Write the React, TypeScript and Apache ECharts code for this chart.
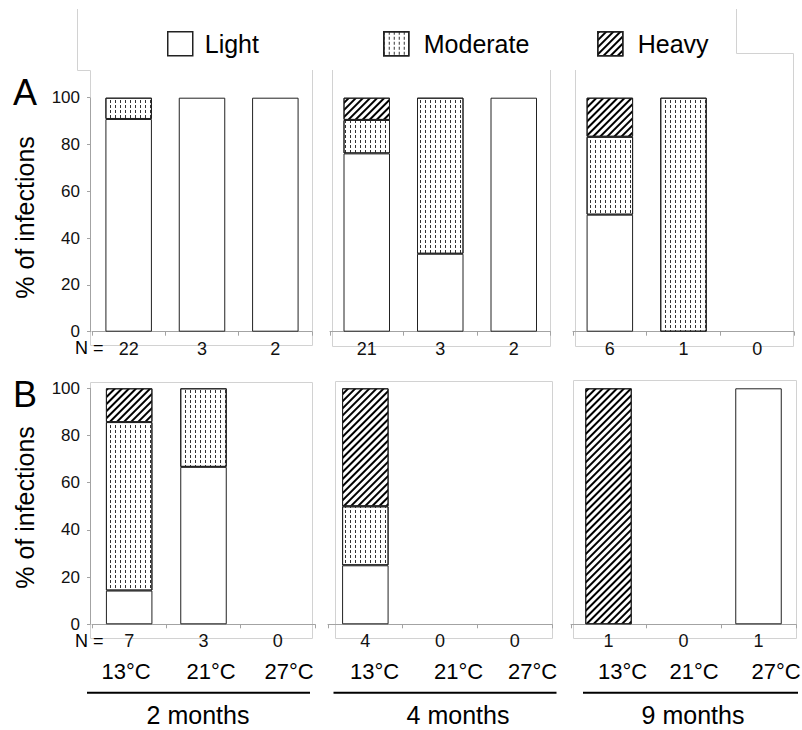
import { useEffect, useRef } from "react";
import * as echarts from "echarts";

const temperatures = ["13°C", "21°C", "27°C"];
const durations = ["2 months", "4 months", "9 months"];
const levels = ["Light", "Moderate", "Heavy"];
const rowLetters = ["A", "B"];
const yTitle = "% of infections";

// Infected fish counted at each temperature, one inner list per duration
const countsA = [[22, 3, 2], [21, 3, 2], [6, 1, 0]];
const countsB = [[7, 3, 0], [4, 0, 0], [1, 0, 1]];

// Share of infections (%) by intensity; null where no fish were infected
const lightA = [[90.9, 100, 100], [76.2, 33.3, 100], [50, 0, null]];
const moderateA = [[9.1, 0, 0], [14.3, 66.7, 0], [33.3, 100, null]];
const heavyA = [[0, 0, 0], [9.5, 0, 0], [16.7, 0, null]];
const lightB = [[14.3, 66.7, null], [25, null, null], [0, null, 100]];
const moderateB = [[71.4, 33.3, null], [25, null, null], [0, null, 0]];
const heavyB = [[14.3, 0, null], [50, null, null], [100, null, 0]];

const FONT = "'Liberation Sans', Arial, Helvetica, sans-serif";
const AXIS = "#a3a3a3";
const FRAME = "#d2d2d2";
const EDGE = "#222";

const rowsData = [
  { counts: countsA, values: [lightA, moderateA, heavyA] },
  { counts: countsB, values: [lightB, moderateB, heavyB] },
];

const rowLayout = [
  { top: 97.7, height: 234, lefts: [92, 330, 573], widths: [220, 220.5, 221], letterY: 92, titleY: 217.5, nY: 348.3 },
  { top: 388.3, height: 236, lefts: [92, 328, 571], widths: [223, 224, 225], letterY: 394.7, titleY: 507.5, nY: 641 },
];

const tempLabelX = [[126, 211, 289], [374.5, 458.5, 532.5], [622.5, 694, 776]];
const durationX = [198, 458, 693];
const underline = [[87, 310], [333.5, 556.5], [583, 798]];

const levelStyles = [
  { color: "#fff", borderColor: EDGE, borderWidth: 1 },
  {
    color: "#fff",
    borderColor: EDGE,
    borderWidth: 1,
    decal: {
      symbol: "rect",
      symbolSize: 1,
      dashArrayX: [1, 4],
      dashArrayY: [3, 2],
      color: "#333",
      backgroundColor: "#fff",
    },
  },
  {
    color: "#fff",
    borderColor: EDGE,
    borderWidth: 1,
    decal: {
      symbol: "rect",
      symbolSize: 1,
      dashArrayX: [1, 0],
      dashArrayY: [2, 3],
      rotation: -Math.PI / 4,
      color: "#000",
      backgroundColor: "#fff",
    },
  },
];

function line(points: number[][], stroke = FRAME, lineWidth = 1) {
  return { type: "polyline", silent: true, shape: { points }, style: { stroke, lineWidth, fill: "none" } };
}

function text(x: number, y: number, str: string, fontSize: number, align = "center", rotation = 0) {
  return {
    type: "text",
    x,
    y,
    rotation,
    silent: true,
    style: { text: str, fontSize, fontFamily: FONT, fill: "#000", align, verticalAlign: "middle" },
  };
}

function buildOption() {
  const grids: any[] = [];
  const xAxes: any[] = [];
  const yAxes: any[] = [];
  const series: any[] = [];

  rowsData.forEach((row, r) => {
    const lay = rowLayout[r];
    for (let c = 0; c < 3; c++) {
      const i = r * 3 + c;
      grids.push({ left: lay.lefts[c], top: lay.top, width: lay.widths[c], height: lay.height });
      xAxes.push({
        type: "category",
        gridIndex: i,
        data: temperatures,
        axisLine: { lineStyle: { color: AXIS, width: 1 } },
        axisTick: { show: true, length: 4, lineStyle: { color: AXIS } },
        axisLabel: {
          formatter: (_v: string, idx: number) => String(row.counts[c][idx]),
          fontSize: 18,
          color: "#111",
          margin: 8,
          fontFamily: FONT,
        },
        splitLine: { show: false },
      });
      yAxes.push({
        type: "value",
        gridIndex: i,
        min: 0,
        max: 100,
        interval: 20,
        show: c === 0,
        offset: 2,
        axisLine: { show: true, lineStyle: { color: AXIS } },
        axisTick: { show: true, length: 3, lineStyle: { color: AXIS } },
        axisLabel: { fontSize: 17, color: "#111", margin: 10, fontFamily: FONT },
        splitLine: { show: false },
      });
      levels.forEach((name, l) => {
        series.push({
          type: "bar",
          name,
          xAxisIndex: i,
          yAxisIndex: i,
          stack: "panel" + i,
          barWidth: 46.5,
          silent: true,
          data: row.values[l][c].map((v) => (v === 0 ? null : v)),
          itemStyle: levelStyles[l],
        });
      });
    }
  });

  const legendBase = {
    padding: 0,
    top: 31,
    itemWidth: 25,
    itemHeight: 24,
    icon: "rect",
    selectedMode: false,
    itemStyle: { borderColor: EDGE, borderWidth: 1.5 },
  };
  const legendLeft = [167, 383, 597];
  const legendPad = [7, 10, 10];
  const legend = levels.map((name, k) => ({
    ...legendBase,
    data: [name],
    left: legendLeft[k],
    textStyle: { fontSize: 25, fontFamily: FONT, color: "#000", padding: [0, 0, 0, legendPad[k]] },
  }));

  const graphic: any[] = [
    // outline around the key and the upper panels
    line([[77.5, 9], [77.5, 70.5], [90.5, 70.5], [90.5, 97]]),
    line([[90.5, 331], [90.5, 345.5], [312.5, 345.5], [312.5, 70]]),
    line([[332.5, 70], [332.5, 346.5], [550.5, 346.5], [550.5, 70]]),
    line([[575.5, 70], [575.5, 346.5], [793.5, 346.5], [793.5, 53.5], [736.5, 53.5], [736.5, 9]]),
    // lower panel frames
    line([[90.5, 382.5], [312.5, 382.5], [312.5, 638.5], [90.5, 638.5], [90.5, 382.5]]),
    line([[335.5, 381.5], [552.5, 381.5], [552.5, 638.5], [335.5, 638.5], [335.5, 381.5]]),
    line([[573.5, 380.5], [796.5, 380.5], [796.5, 638.5], [573.5, 638.5], [573.5, 380.5]]),
  ];

  rowLayout.forEach((lay, r) => {
    graphic.push(text(13, lay.letterY, rowLetters[r], 36, "left"));
    graphic.push(text(25, lay.titleY, yTitle, 25, "center", Math.PI / 2));
    graphic.push(text(75, lay.nY, "N =", 18, "left"));
  });

  durations.forEach((d, c) => {
    temperatures.forEach((t, k) => graphic.push(text(tempLabelX[c][k], 671.3, t, 22)));
    graphic.push(line([[underline[c][0], 692.7], [underline[c][1], 692.7]], "#000", 2));
    graphic.push(text(durationX[c], 715.3, d, 25));
  });

  return {
    animation: false,
    backgroundColor: "#fff",
    textStyle: { fontFamily: FONT },
    legend,
    grid: grids,
    xAxis: xAxes,
    yAxis: yAxes,
    series,
    graphic,
  };
}

export default function App() {
  const ref = useRef<HTMLDivElement>(null);
  useEffect(() => {
    const chart = echarts.init(ref.current!, null, { renderer: "svg" });
    chart.setOption(buildOption() as any);
    return () => chart.dispose();
  }, []);
  return (
    <div
      ref={ref}
      style={{ position: "fixed", left: 0, top: 0, width: 802, height: 730, background: "#fff" }}
    />
  );
}
